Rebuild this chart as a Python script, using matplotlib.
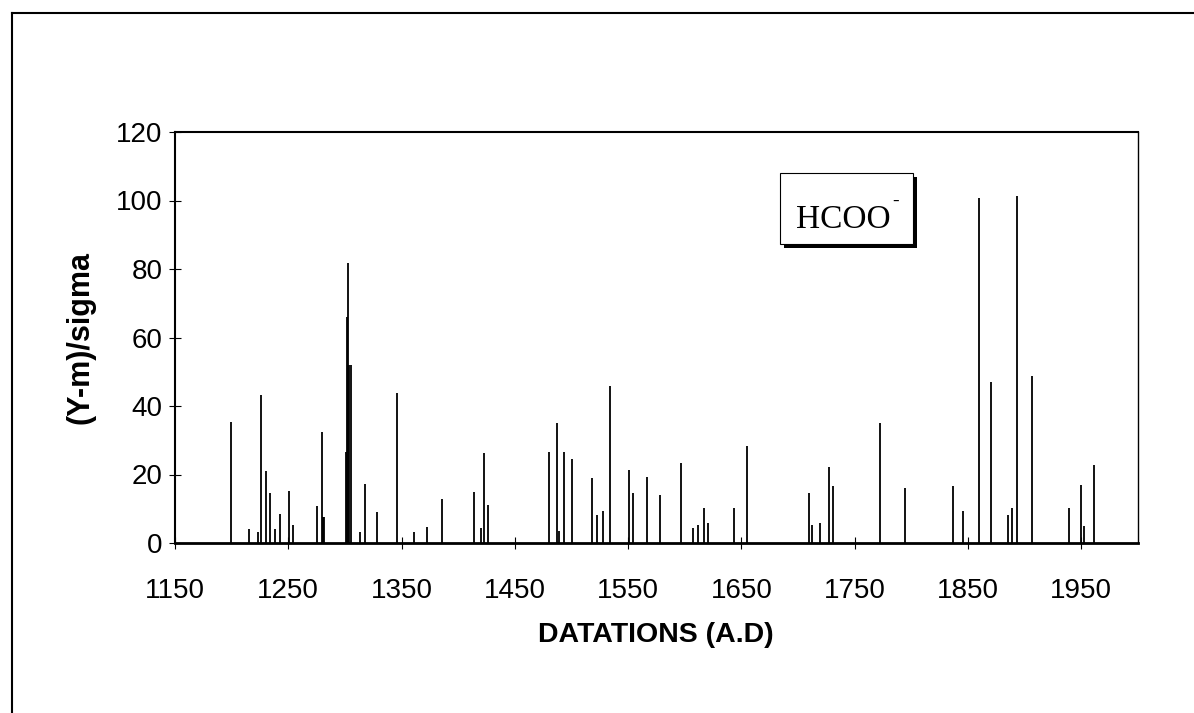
import matplotlib
matplotlib.use("Agg")
import matplotlib.pyplot as plt
from matplotlib.patches import Rectangle
from matplotlib.lines import Line2D

# datations (A.D) and (Y-m)/sigma values
years = [1199, 1215, 1223, 1226, 1230.5, 1234, 1238, 1242.5, 1250.5, 1254,
         1275, 1279.5, 1280.5, 1281.5, 1300.5, 1301.5, 1303, 1304, 1305, 1313,
         1318, 1328.5, 1346, 1361, 1372, 1386, 1413.5, 1420, 1423, 1426.5,
         1480.5, 1487, 1489, 1493.5, 1500.5, 1518, 1522.5, 1527.5, 1534, 1550.5,
         1554.5, 1567, 1578.5, 1596.5, 1607, 1612, 1616.5, 1620.5, 1643.5, 1654.5,
         1709.5, 1712.5, 1719.5, 1727, 1730.5, 1772.5, 1794.5, 1837, 1845.5, 1860,
         1870, 1885, 1889, 1893.5, 1906.5, 1939, 1950, 1952, 1961.5]
values = [35.4, 4.0, 3.3, 43.2, 21.1, 14.7, 4.0, 8.4, 15.3, 5.3,
          10.9, 32.5, 7.7, 7.7, 26.7, 66, 81.7, 52, 52, 3.3,
          17.2, 9.1, 43.7, 3.3, 4.8, 12.8, 14.9, 4.3, 26.4, 11.1,
          26.5, 35.1, 3.6, 26.5, 24.5, 19.0, 8.2, 9.4, 45.9, 21.4,
          14.5, 19.4, 13.9, 23.5, 4.5, 5.2, 10.3, 5.7, 10.1, 28.4,
          14.6, 5.2, 5.9, 22.3, 16.6, 35.0, 16.2, 16.6, 9.4, 100.6,
          47.1, 8.3, 10.1, 101.3, 48.8, 10.1, 16.9, 5.1, 22.7]
xticks = list(range(1150, 2000, 100))
yticks = list(range(0, 121, 20))

W, H = 1194, 713
fig = plt.figure(figsize=(W / 100, H / 100), dpi=100)
ax = fig.add_axes([175 / W, 1 - 543 / H, (1138 - 175) / W, (543 - 132) / H])

ax.vlines(years, 0, values, colors="black", linewidth=1.3)
ax.set_xlim(1150, 2000)
ax.set_ylim(0, 120)
ax.set_xticks(xticks)
ax.set_yticks(yticks)

for s in ax.spines.values():
    s.set_linewidth(1.5)
ax.spines["right"].set_linewidth(1.0)
ax.spines["bottom"].set_linewidth(2.0)

ax.tick_params(axis="both", direction="inout", length=8, width=0.8,
               labelsize=20, labelfontfamily="Liberation Sans")
ax.tick_params(axis="x", pad=21)
ax.tick_params(axis="y", pad=5)

ax.set_xlabel("DATATIONS (A.D)", fontsize=20.5, fontweight="bold",
              family="Liberation Sans")
ax.set_ylabel("(Y-m)/sigma", fontsize=22, fontweight="bold",
              family="Liberation Sans")
ax.xaxis.set_label_coords(0.4995, -0.192)
ax.yaxis.set_label_coords(-0.083, 0.5)

# label box with shadow
bx0, by0, bx1, by1 = 780, 173, 913, 244
fig.add_artist(Rectangle(((bx0 + 4) / W, 1 - (by1 + 4) / H), (bx1 - bx0) / W,
                         (by1 - by0) / H, transform=fig.transFigure,
                         facecolor="black", edgecolor="none"))
fig.add_artist(Rectangle((bx0 / W, 1 - by1 / H), (bx1 - bx0) / W,
                         (by1 - by0) / H, transform=fig.transFigure,
                         facecolor="white", edgecolor="black", linewidth=0.8))
fig.text(796 / W, 1 - 228 / H, "HCOO", fontsize=24, family="Liberation Serif",
         ha="left", va="baseline")
fig.text(892 / W, 1 - 206 / H, "-", fontsize=14, family="Liberation Serif",
         ha="left", va="baseline")

# outer frame of the page
fig.add_artist(Line2D([12 / W, 1], [1 - 13 / H, 1 - 13 / H],
                      transform=fig.transFigure, color="black", linewidth=1.5))
fig.add_artist(Line2D([12 / W, 12 / W], [1 - 13 / H, 0],
                      transform=fig.transFigure, color="black", linewidth=1.5))

fig.savefig("out.png", dpi=100)
